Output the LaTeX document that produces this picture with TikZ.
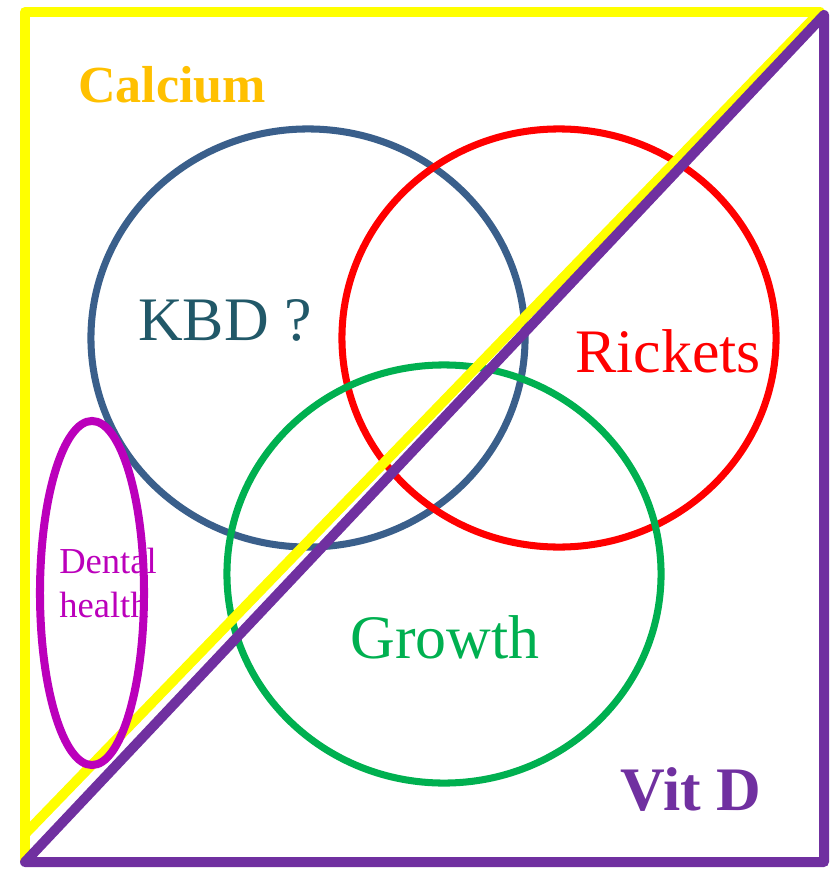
\documentclass[tikz,border=0pt]{standalone}
\usepackage{fontspec}
\setmainfont{Liberation Serif}
\usepackage{tikz}
\usetikzlibrary{shapes.geometric}
\definecolor{cYellow}{HTML}{FFFF00}
\definecolor{cPurple}{HTML}{7030A0}
\definecolor{cGold}{HTML}{FFC000}
\definecolor{cSteel}{HTML}{3A5F8B}
\definecolor{cTeal}{HTML}{215868}
\definecolor{cRed}{HTML}{FF0000}
\definecolor{cGreen}{HTML}{00B050}
\definecolor{cMagenta}{HTML}{BB00BB}
\tikzset{
  ring/.style={ellipse,draw=#1,line width=5pt,inner sep=0pt,minimum width=10.85cm,minimum height=10.45cm},
  ring/.default=cSteel,
  edge/.style={draw=#1,line width=7.1pt,line join=round},
  tag/.style={text=#1,font=\fontsize{44}{50}\selectfont,inner sep=0pt,anchor=base},
}
\begin{document}
\begin{tikzpicture}[x=0.025cm,y=-0.025cm]
  \useasboundingbox (0,0) rectangle (833,873);
  % the three overlapping circles
  \node[ring=cSteel] (kbd) at (308,338) {};
  \node[ring=cRed]   (rickets) at (559,338) {};
  \node[ring=cGreen] (growth) at (444,574) {};
  % calcium half and vitamin D half
  \draw[edge=cYellow] (25,862) -- (25,12) -- (820,12) -- (25,834);
  \draw[edge=cPurple] (824,15) -- (824,862) -- (25,862) -- cycle;
  % dental ellipse
  \node[ellipse,draw=cMagenta,line width=5.7pt,inner sep=0pt,minimum width=2.6cm,minimum height=8.6cm] (dental) at (92,593) {};
  % labels
  \node[tag=cGold,font=\fontsize{37}{42}\selectfont\bfseries] (calcium) at (172,103) {Calcium};
  \node[tag=cTeal] (kbdlbl) at (225,340) {KBD ?};
  \node[tag=cRed] (ricketslbl) at (668,372) {Rickets};
  \node[tag=cGreen] (growthlbl) at (445,658) {Growth};
  \node[tag=cPurple,font=\fontsize{44}{50}\selectfont\bfseries] (vitd) at (691,810) {Vit D};
  \node[tag=cMagenta,font=\fontsize{26}{31}\selectfont,anchor=base west,align=left] (dentallbl) at (59,617) {Dental\\health};
\end{tikzpicture}
\end{document}
